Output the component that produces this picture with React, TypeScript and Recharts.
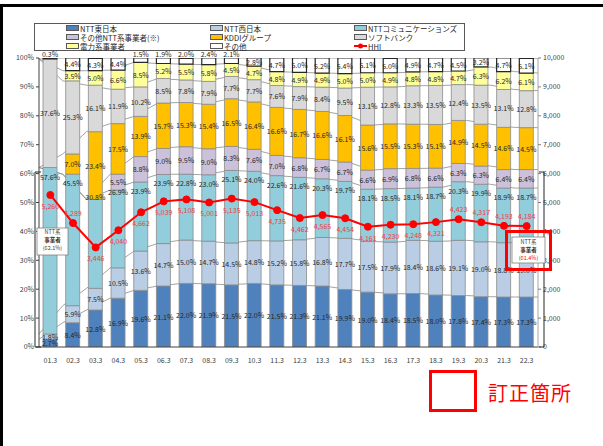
import React from "react";
import { ComposedChart, Bar, Line, XAxis, YAxis, LabelList } from "recharts";

// fiscal year-end labels
const years = ["01.3", "02.3", "03.3", "04.3", "05.3", "06.3", "07.3", "08.3", "09.3", "10.3", "11.3", "12.3", "13.3", "14.3", "15.3", "16.3", "17.3", "18.3", "19.3", "20.3", "21.3", "22.3"];

// shares (%) by operator group, bottom to top of each stack
const nttEast = [2.7, 8.4, 12.8, 16.9, 19.6, 21.1, 22.0, 21.9, 21.5, 22.0, 21.5, 21.3, 21.1, 19.9, 19.0, 18.4, 18.5, 18.0, 17.8, 17.4, 17.3, 17.3];
const nttWest = [1.8, 5.9, 7.5, 10.5, 13.6, 14.7, 15.0, 14.7, 14.5, 14.8, 15.2, 15.8, 16.8, 17.7, 17.5, 17.9, 18.4, 18.6, 19.1, 19.0, 18.8, 19.0];
const nttCom = [57.6, 45.5, 30.8, 26.9, 23.9, 23.9, 22.8, 23.0, 25.1, 24.0, 22.6, 21.6, 20.3, 19.7, 18.1, 18.5, 18.1, 18.7, 20.3, 19.9, 18.9, 18.7];
const otherNtt = [0, 0, 0, 5.5, 8.8, 9.0, 9.5, 9.0, 8.3, 7.6, 7.0, 6.8, 6.7, 6.7, 6.6, 6.9, 6.8, 6.6, 6.3, 6.3, 6.4, 6.4];
const kddi = [0, 7.0, 23.4, 17.5, 13.9, 15.7, 15.3, 15.4, 16.5, 16.4, 16.6, 16.7, 16.6, 16.1, 15.6, 15.5, 15.3, 15.1, 14.9, 14.5, 14.6, 14.5];
const softbank = [37.6, 25.3, 16.1, 11.9, 10.2, 8.5, 7.8, 7.9, 7.7, 7.7, 7.6, 7.9, 8.4, 9.5, 13.1, 12.8, 13.3, 13.5, 12.4, 13.5, 13.1, 12.8];
const power = [0, 3.5, 5.0, 6.6, 8.5, 5.2, 5.5, 5.8, 4.5, 4.7, 4.8, 4.9, 4.9, 5.0, 5.0, 4.9, 4.8, 4.8, 4.7, 6.3, 6.2, 6.1];
const others = [0.3, 4.4, 4.3, 4.4, 1.5, 1.9, 2.0, 2.4, 2.1, 2.8, 4.7, 5.0, 5.2, 5.4, 5.1, 5.0, 4.9, 4.7, 4.5, 3.2, 4.7, 5.1];

// HHI, right axis
const hhi = [5260, 4289, 3446, 4040, 4662, 5039, 5108, 5001, 5135, 5013, 4735, 4462, 4565, 4454, 4161, 4230, 4248, 4321, 4423, 4317, 4193, 4184];
// which HHI labels sit above the point
const hhiAbove = ["02.3", "19.3", "20.3", "21.3", "22.3"];

const pctTicks = [0, 10, 20, 30, 40, 50, 60, 70, 80, 90, 100];
const hhiTicks = [0, 1000, 2000, 3000, 4000, 5000, 6000, 7000, 8000, 9000, 10000];

const seriesDefs = [
  { key: "east", name: "NTT東日本", values: nttEast, color: "#4F81BD" },
  { key: "west", name: "NTT西日本", values: nttWest, color: "#B9CDE5" },
  { key: "com", name: "NTTコミュニケーションズ", values: nttCom, color: "#92CDDC" },
  { key: "ontt", name: "その他NTT系事業者(※)", values: otherNtt, color: "#CCC1DA" },
  { key: "kddi", name: "KDDIグループ", values: kddi, color: "#FFC000" },
  { key: "sb", name: "ソフトバンク", values: softbank, color: "#D9D9D9" },
  { key: "power", name: "電力系事業者", values: power, color: "#FFFF99" },
  { key: "other", name: "その他", values: others, color: "#FFFFFF" },
];

const data = years.map((year, i) => {
  const row: any = { year, hhi: hhi[i] };
  let cum = 0;
  seriesDefs.forEach((s, k) => {
    row[s.key] = s.values[i];
    cum += s.values[i];
    row["c" + k] = Math.min(cum, 100);
  });
  return row;
});

const W = 603;
const H = 446;
const PLOT_TOP = 58;
const PLOT_BOTTOM = 347;
const FONT = "'Noto Sans CJK JP', 'Noto Sans', sans-serif";
const MARGIN = { top: PLOT_TOP, right: 20, left: 5, bottom: H - PLOT_BOTTOM - 20 };

// NTT Com labels were pushed up to the top of their segment (clear of the HHI line)
const comShift: Record<string, number> = { "03.3": -2, "04.3": 2 };

const pctLabel = (key: string) => (props: any) => {
  const { x, y, width, height, value, index } = props;
  if (!value) return null;
  const cx = Number(x) + Number(width) / 2;
  let cy = Number(y) + Number(height) / 2;
  if (key === "other" && value < 2.5) cy = Number(y) - 4;
  if (key === "com") cy = Number(y) + (comShift[years[index]] ?? 9);
  return (
    <text x={cx} y={cy} textAnchor="middle" dominantBaseline="central" fontSize={7} fill="#262626" fontFamily={FONT}>
      {value.toFixed(1)}%
    </text>
  );
};

const hhiLabel = (props: any) => {
  const { x, y, value, index } = props;
  const up = hhiAbove.includes(years[index]);
  return (
    <text x={Number(x)} y={Number(y) + (up ? -10 : 11)} textAnchor="middle" dominantBaseline="central" fontSize={7} fill="#F04040" fontFamily={FONT}>
      {Number(value).toLocaleString("en-US")}
    </text>
  );
};

function LegendBox() {
  const cols = [65, 209, 353];
  const rows = [28, 37, 46];
  return (
    <div style={{ position: "absolute", left: 34, top: 23, width: 431, height: 28, border: "1px solid #595959", boxSizing: "border-box" }}>
      {seriesDefs.map((s, i) => (
        <div key={s.key} style={{ position: "absolute", left: cols[i % 3] - 34, top: rows[Math.floor(i / 3)] - 23 - 6, height: 10, display: "flex", alignItems: "center", fontFamily: FONT, fontSize: 7.5, color: "#262626", whiteSpace: "nowrap" }}>
          <span style={{ display: "inline-block", width: 11, height: 4, background: s.color, border: "1px solid #595959", marginRight: 1 }} />
          {s.name}
        </div>
      ))}
      <div style={{ position: "absolute", left: cols[2] - 34, top: rows[2] - 23 - 6, height: 10, display: "flex", alignItems: "center", fontFamily: FONT, fontSize: 7.5, color: "#262626" }}>
        <svg width={13} height={8} style={{ marginRight: 1 }}>
          <line x1={0} y1={4} x2={13} y2={4} stroke="#FF0000" strokeWidth={2} />
          <circle cx={6.5} cy={4} r={2.5} fill="#FF0000" />
        </svg>
        HHI
      </div>
    </div>
  );
}

function Overlay() {
  const leftShare = (nttEast[0] + nttWest[0] + nttCom[0] + otherNtt[0]).toFixed(1);
  const n = years.length - 1;
  const rightShare = (nttEast[n] + nttWest[n] + nttCom[n] + otherNtt[n]).toFixed(1);
  return (
    <svg width={W} height={H} style={{ position: "absolute", left: 0, top: 0, pointerEvents: "none" }} fontFamily={FONT}>
      {/* brackets for NTT group share */}
      <path d={`M41,172 H35 V${PLOT_BOTTOM} H41`} fill="none" stroke="#262626" strokeWidth={1} />
      <path d={`M539,172 H544 V${PLOT_BOTTOM} H539`} fill="none" stroke="#262626" strokeWidth={1} />
      <rect x={37} y={228} width={31} height={27} fill="#fff" stroke="#7F7F7F" strokeWidth={0.8} />
      <text x={52.5} y={234} textAnchor="middle" fontSize={5.5} fill="#404040">NTT系</text>
      <text x={52.5} y={242} textAnchor="middle" fontSize={5.5} fill="#262626" fontWeight="bold">事業者</text>
      <text x={52.5} y={250} textAnchor="middle" fontSize={5.5} fill="#404040">({leftShare}%)</text>

      <rect x={512} y={237} width={33} height={26} fill="#fff" stroke="#7F7F7F" strokeWidth={0.8} />
      <text x={528.5} y={244} textAnchor="middle" fontSize={5.5} fill="#404040">NTT系</text>
      <text x={528.5} y={252} textAnchor="middle" fontSize={5.5} fill="#262626" fontWeight="bold">事業者</text>
      <text x={528.5} y={259.5} textAnchor="middle" fontSize={5.5} fill="#404040">
        (<tspan fill="#FF0000">{rightShare}%</tspan>)
      </text>
      <rect x={506.5} y={231.5} width={44} height={38} fill="none" stroke="#FF0000" strokeWidth={3} />

      {/* correction marker */}
      <rect x={430.5} y={371.5} width={45} height={39} fill="none" stroke="#FF0000" strokeWidth={3} />
      <text x={488} y={392} dominantBaseline="central" fontSize={20} fill="#FF0000" letterSpacing={1}>訂正箇所</text>
    </svg>
  );
}

// same plot geometry as the main chart, axes drawn invisibly
function HiddenAxes() {
  return [
    <XAxis key="x" dataKey="year" height={20} interval={0} tick={false} tickLine={false} axisLine={false} />,
    <YAxis key="l" yAxisId="left" width={34} domain={[0, 100]} ticks={pctTicks} allowDataOverflow tick={false} tickLine={false} axisLine={false} />,
    <YAxis key="r" yAxisId="right" orientation="right" width={45} domain={[0, 10000]} ticks={hhiTicks} tick={false} tickLine={false} axisLine={false} />,
  ];
}

export default function App() {
  return (
    <div style={{ position: "absolute", left: 0, top: 0, width: W, height: H, background: "#fff", overflow: "hidden" }}>
      <div style={{ position: "absolute", left: 0, top: 4, width: W, height: H, borderLeft: "3px solid #000", borderTop: "3px solid #000", boxSizing: "border-box" }} />
      <LegendBox />
      {/* series lines between the stacks, kept behind the bars */}
      <div style={{ position: "absolute", left: 0, top: 0 }}>
        <ComposedChart width={W} height={H} data={data} margin={MARGIN}>
          {HiddenAxes()}
          {seriesDefs.map((s, k) => (
            <Line
              key={"c" + k}
              yAxisId="left"
              dataKey={"c" + k}
              stroke="#8C8C8C"
              strokeWidth={0.8}
              dot={false}
              activeDot={false}
              isAnimationActive={false}
            />
          ))}
        </ComposedChart>
      </div>
      <div style={{ position: "absolute", left: 0, top: 0 }}>
        <ComposedChart width={W} height={H} data={data} margin={MARGIN}>
          <XAxis
            dataKey="year"
            height={20}
            interval={0}
            tickLine={false}
            tickMargin={5}
            axisLine={{ stroke: "#404040" }}
            tick={{ fontSize: 7, fill: "#404040", fontFamily: FONT }}
          />
          <YAxis
            yAxisId="left"
            width={34}
            domain={[0, 100]}
            ticks={pctTicks}
            allowDataOverflow
            tickSize={3}
            tickFormatter={(v) => `${v}%`}
            axisLine={{ stroke: "#404040" }}
            tickLine={{ stroke: "#404040" }}
            tick={{ fontSize: 7, fill: "#404040", fontFamily: FONT }}
          />
          <YAxis
            yAxisId="right"
            orientation="right"
            width={45}
            domain={[0, 10000]}
            ticks={hhiTicks}
            tickSize={3}
            tickFormatter={(v) => Number(v).toLocaleString("en-US")}
            axisLine={{ stroke: "#A6A6A6" }}
            tickLine={{ stroke: "#7F7F7F" }}
            tick={{ fontSize: 7, fill: "#404040", fontFamily: FONT }}
          />
          {seriesDefs.map((s) => (
            <Bar
              key={s.key}
              yAxisId="left"
              dataKey={s.key}
              stackId="share"
              fill={s.color}
              stroke={s.key === "other" ? "#262626" : "#8C8C8C"}
              strokeWidth={s.key === "other" ? 1.2 : 0.8}
              barSize={14}
              isAnimationActive={false}
            >
              <LabelList dataKey={s.key} content={pctLabel(s.key)} />
            </Bar>
          ))}
          <Line
            yAxisId="right"
            dataKey="hhi"
            stroke="#FF0000"
            strokeWidth={2}
            dot={{ r: 3.5, fill: "#FF0000", stroke: "#FF0000", strokeWidth: 1 }}
            activeDot={false}
            isAnimationActive={false}
          >
            <LabelList dataKey="hhi" content={hhiLabel} />
          </Line>
        </ComposedChart>
      </div>
      <Overlay />
    </div>
  );
}
